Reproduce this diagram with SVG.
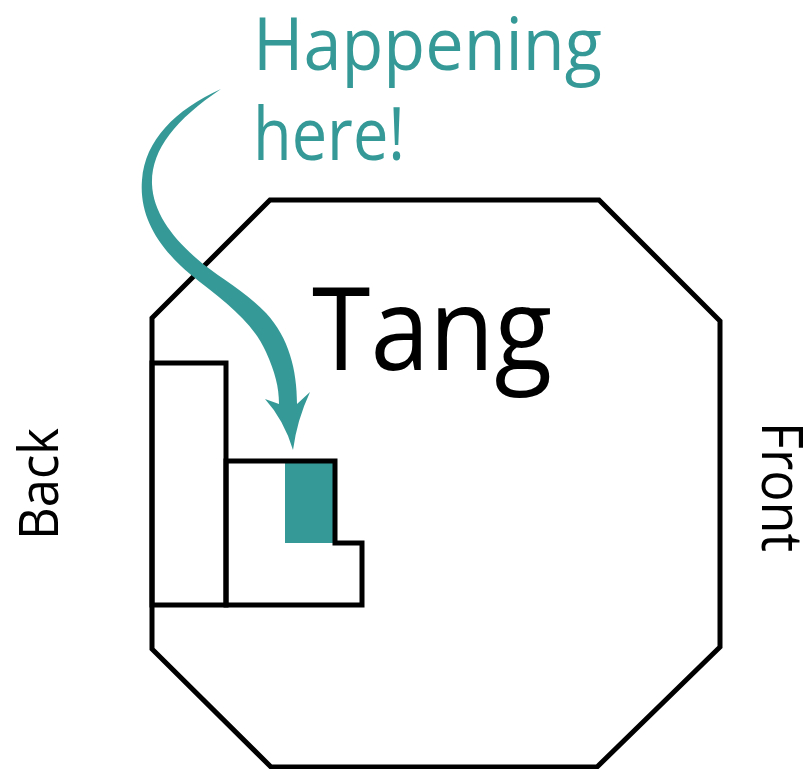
<svg xmlns="http://www.w3.org/2000/svg" width="808" height="769" viewBox="0 0 808 769">
  <style>
    .ln { fill: none; stroke: #000; stroke-width: 5; stroke-linejoin: miter; }
    .teal { fill: #359a97; }
    .lbl { font-family: "Open Sans", "Noto Sans", "Liberation Sans", sans-serif; }
  </style>
  <rect width="808" height="769" fill="#fff"/>
  <g id="tang">
    <polygon class="ln" points="270,200 599,200 720,321 720,647 597,767 271,767 152,649 152,318"/>
    <text class="lbl" x="312" y="370" font-size="116" fill="#000" textLength="240" lengthAdjust="spacingAndGlyphs">Tang</text>
  </g>
  <g id="block-tall">
    <rect class="ln" x="152" y="363" width="74" height="242"/>
  </g>
  <g id="block-step">
    <rect class="teal" x="285" y="463" width="48" height="80"/>
    <path class="ln" d="M226,461 H335 V543 H362 V605 H226 Z"/>
  </g>
  <g id="label-back">
    <text class="lbl" transform="translate(58,540) rotate(-90)" x="0" y="0" font-size="54" fill="#000" textLength="112" lengthAdjust="spacingAndGlyphs">Back</text>
  </g>
  <g id="label-front">
    <text class="lbl" transform="translate(762,422) rotate(90)" x="0" y="0" font-size="56" fill="#000" textLength="130" lengthAdjust="spacingAndGlyphs">Front</text>
  </g>
  <g id="label-happening">
    <text class="lbl" x="253" y="70" font-size="74" fill="#359a97" textLength="349" lengthAdjust="spacingAndGlyphs">Happening</text>
    <text class="lbl" x="253" y="160" font-size="74" fill="#359a97" textLength="152" lengthAdjust="spacingAndGlyphs">here!</text>
  </g>
  <g id="connectors">
    <path class="teal" d="M221,89 C175,110 145,140 142,180 C139,216 158,247 190,274 C222,300 252,320 266,352 C275,372 279,387 279,404 L265,399 Q284,420 293,450 Q297,420 310,392 L297,404 C297,370 289,338 266,313 C244,290 216,276 196,258 C172,237 153,212 152,184 C151,150 175,120 221,89 Z"/>
  </g>
</svg>
